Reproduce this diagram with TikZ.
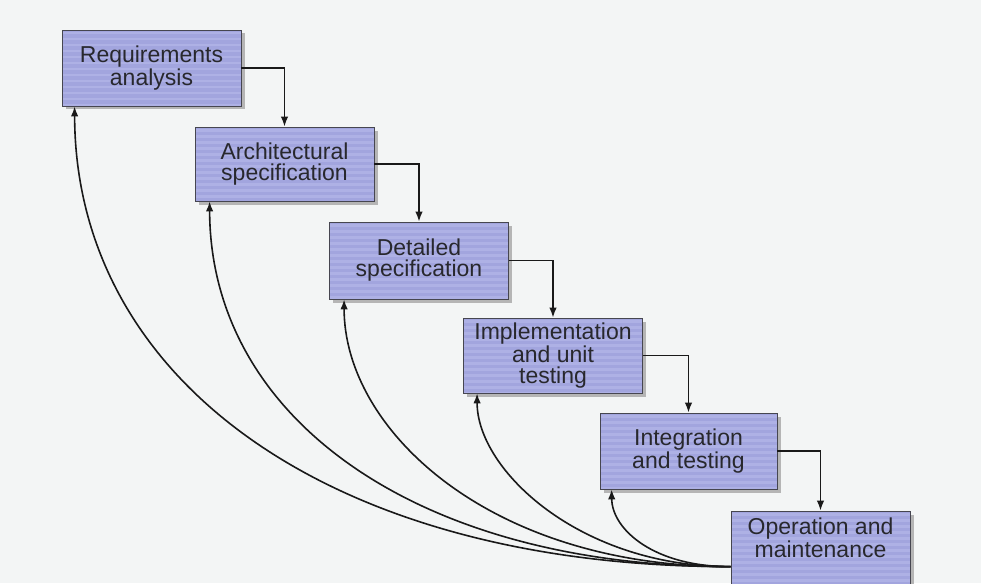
\documentclass[tikz,border=0pt]{standalone}
\usepackage{fontspec}
\setmainfont{Liberation Sans}
\usetikzlibrary{arrows.meta,shadows}
\definecolor{pagebg}{RGB}{243,245,245}
\definecolor{boxfill}{RGB}{162,165,222}
\definecolor{boxstripe}{RGB}{180,183,232}
\definecolor{boxline}{RGB}{70,70,80}
\definecolor{inktext}{RGB}{40,40,45}
\tikzset{
  stagebox/.style={draw=boxline, line width=0.8pt, fill=boxfill,
    path picture={
      \foreach \k in {0,...,16}
        \fill[boxstripe, opacity=0.7]
          ([yshift=-\k*6pt-2pt]path picture bounding box.north west)
          rectangle ([yshift=-\k*6pt-4.5pt]path picture bounding box.north east);
    },
    drop shadow={shadow xshift=3.5pt, shadow yshift=-3.5pt, fill=black!35, opacity=0.8},
    minimum width=179pt, minimum height=76pt, inner sep=0pt, align=center,
    text=inktext, font=\fontsize{23}{21}\selectfont},
  flow/.style={draw=black!90, line width=1.6pt, -{Latex[length=10pt,width=7.5pt]}},
  back/.style={draw=black!90, line width=1.6pt, -{Latex[length=10pt,width=7.5pt]}}
}
\begin{document}
\begin{tikzpicture}[x=1pt,y=-1pt]
\fill[pagebg] (0,0) rectangle (981,583);
\useasboundingbox (0,0) rectangle (981,583);
\node[stagebox] (b1) at (151.5,68) {Requirements\\analysis};
\node[stagebox, minimum height=74pt] (b2) at (284.5,164) {Architectural\\specification};
\node[stagebox, minimum height=77pt] (b3) at (419,260.5) {Detailed\\specification};
\node[stagebox, minimum height=75pt] (b4) at (553,355.5) {Implementation\\and unit\\testing};
\node[stagebox, minimum width=177pt] (b5) at (688.5,451) {Integration\\and testing};
\node[stagebox, minimum height=80pt] (b6) at (820.5,551) {Operation and\\maintenance\\[6pt]};
\coordinate (fb) at ([yshift=-56pt]b6.north west);
\draw[flow] (b1.east) -| (b2.north);
\draw[flow] (b2.east) -| (b3.north);
\draw[flow] (b3.east) -| (b4.north);
\draw[flow] (b4.east) -| (b5.north);
\draw[flow] (b5.east) -| (b6.north);
\draw[back] (fb) .. controls (330,567) and (75,380) .. ([xshift=13pt]b1.south west);
\draw[back] (fb) .. controls (420,567) and (210,420) .. ([xshift=15pt]b2.south west);
\draw[back] (fb) .. controls (490,567) and (344,430) .. ([xshift=15pt]b3.south west);
\draw[back] (fb) .. controls (580,567) and (477,470) .. ([xshift=14pt]b4.south west);
\draw[back] (fb) .. controls (655,567) and (612,530) .. ([xshift=12pt]b5.south west);
\end{tikzpicture}
\end{document}
